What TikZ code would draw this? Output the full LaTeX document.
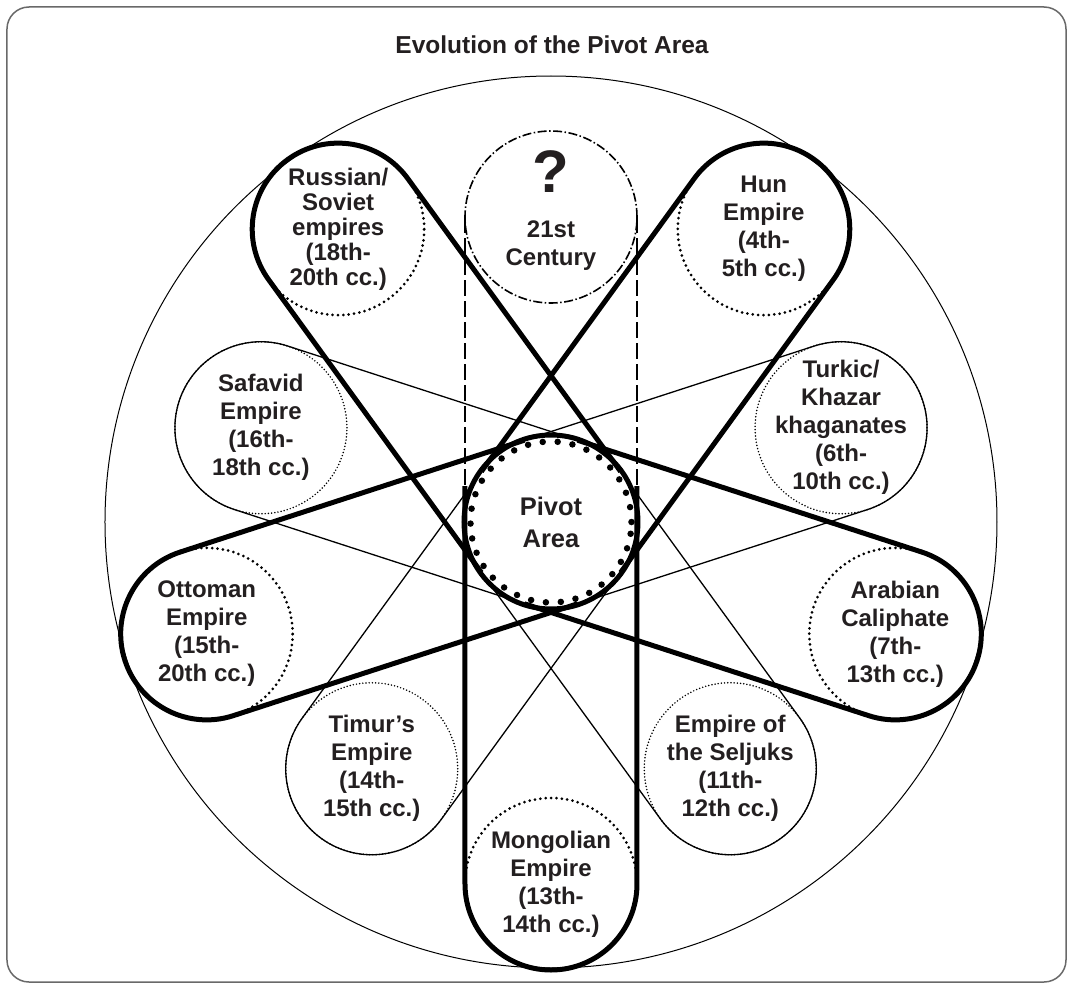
\documentclass[tikz,border=0pt]{standalone}
\usepackage{fontspec}
\setmainfont{Liberation Sans}
\usetikzlibrary{positioning}
\usetikzlibrary{calc}

\definecolor{inkgray}{RGB}{35,31,32}
\definecolor{framegray}{RGB}{105,105,105}

\tikzset{
	eratext/.style = {align = center, text = inkgray, inner sep = 0pt, font = \fontsize{24}{28}\selectfont\bfseries},
	era/.style = {eratext, circle, inner sep = -14pt, minimum size = 172pt},
	dotbig/.style = {draw, line width = 3pt, line cap = round, dash pattern = on 0pt off 5.4pt},
	dotfine/.style = {draw, line width = 1.7pt, line cap = round, dash pattern = on 0pt off 3.2pt},
	bigcap/.style = {line width = 5pt, line join = round},
	thincap/.style = {line width = 1.3pt}
}

\begin{document}
\begin{tikzpicture}[x = 1pt, y = 1pt]
					\useasboundingbox (-551, -467) rectangle (521, 522);
					\draw [framegray, line width = 1.5pt, rounded corners = 22pt] (-544, -460) rectangle (515, 515);
					\node [font = \fontsize{24.5}{28}\selectfont\bfseries, text = inkgray] (title) at (1, 477) {Evolution of the Pivot Area};
					\draw [black, line width = 1pt] (0, 0) circle (446);
					\node [era, draw, line width = 5pt, fill = white, minimum size = 174pt, font = \fontsize{25.5}{32}\selectfont\bfseries] (pivot) at (0, 0) {Pivot\\Area};
					\node [era, dotbig, font = \fontsize{24}{25}\selectfont\bfseries] (russia) at (126:362) {Russian/\\Soviet\\empires\\(18th-\\20th cc.)};
					\node [era, dotbig] (hun) at (54:362) {Hun\\Empire\\(4th-\\5th cc.)};
					\node [era, dotfine] (turkic) at (18:305) {Turkic/\\Khazar\\khaganates\\(6th-\\10th cc.)};
					\node [era, dotbig] (arab) at (-18:362) {Arabian\\Caliphate\\(7th-\\13th cc.)};
					\node [era, dotfine] (seljuk) at (-54:305) {Empire of\\the Seljuks\\(11th-\\12th cc.)};
					\node [era, dotbig] (mongol) at (-90:362) {Mongolian\\Empire\\(13th-\\14th cc.)};
					\node [era, dotfine] (timur) at (234:305) {Timur’s\\Empire\\(14th-\\15th cc.)};
					\node [era, dotbig] (ottoman) at (198:362) {Ottoman\\Empire\\(15th-\\20th cc.)};
					\node [era, dotfine] (safavid) at (162:305) {Safavid\\Empire\\(16th-\\18th cc.)};
					\node [era, draw, line width = 1.6pt, dash pattern = on 9pt off 2.5pt on 1.5pt off 2.5pt] (future) at (90:305) {};
					\node [text = inkgray, inner sep = 0pt, font = \fontsize{60}{60}\selectfont\bfseries] (qmark) at (0, 350) {?};
					\node [eratext] (futuretext) at (0, 276) {21st\\Century};
					% thick loops
					\draw [bigcap] ($(pivot)+(36:86)$) -- ($(russia)+(36:86)$) arc [start angle = 36, end angle = 216, radius = 86] -- ($(pivot)+(216:86)$);
					\draw [bigcap] ($(pivot)+(-36:86)$) -- ($(hun)+(-36:86)$) arc [start angle = -36, end angle = 144, radius = 86] -- ($(pivot)+(144:86)$);
					\draw [bigcap] ($(pivot)+(-108:86)$) -- ($(arab)+(-108:86)$) arc [start angle = -108, end angle = 72, radius = 86] -- ($(pivot)+(72:86)$);
					\draw [bigcap] ($(pivot)+(108:86)$) -- ($(ottoman)+(108:86)$) arc [start angle = 108, end angle = 288, radius = 86] -- ($(pivot)+(288:86)$);
					\draw [bigcap] ($(pivot)+(-86, 36)$) -- ($(mongol)+(-86, 0)$) arc [start angle = 180, end angle = 360, radius = 86] -- ($(pivot)+(86, 36)$);
					% thin loops
					\draw [thincap] ($(pivot)+(-72:86)$) -- ($(turkic)+(-72:86)$) arc [start angle = -72, end angle = 108, radius = 86] -- ($(pivot)+(108:86)$);
					\draw [thincap] ($(pivot)+(-144:86)$) -- ($(seljuk)+(-144:86)$) arc [start angle = -144, end angle = 36, radius = 86] -- ($(pivot)+(36:86)$);
					\draw [thincap] ($(pivot)+(144:86)$) -- ($(timur)+(144:86)$) arc [start angle = 144, end angle = 324, radius = 86] -- ($(pivot)+(324:86)$);
					\draw [thincap] ($(pivot)+(72:86)$) -- ($(safavid)+(72:86)$) arc [start angle = 72, end angle = 252, radius = 86] -- ($(pivot)+(252:86)$);
					% open future
					\draw [line width = 2pt, dash pattern = on 16pt off 5pt] ($(future)+(-86, 0)$) -- ($(pivot)+(-86, 0)$);
					\draw [line width = 2pt, dash pattern = on 16pt off 5pt] ($(future)+(86, 0)$) -- ($(pivot)+(86, 0)$);
					\draw [line width = 6.5pt, line cap = round, dash pattern = on 0pt off 14.97pt] (pivot.center) circle (80.5);
				\end{tikzpicture}
\end{document}
